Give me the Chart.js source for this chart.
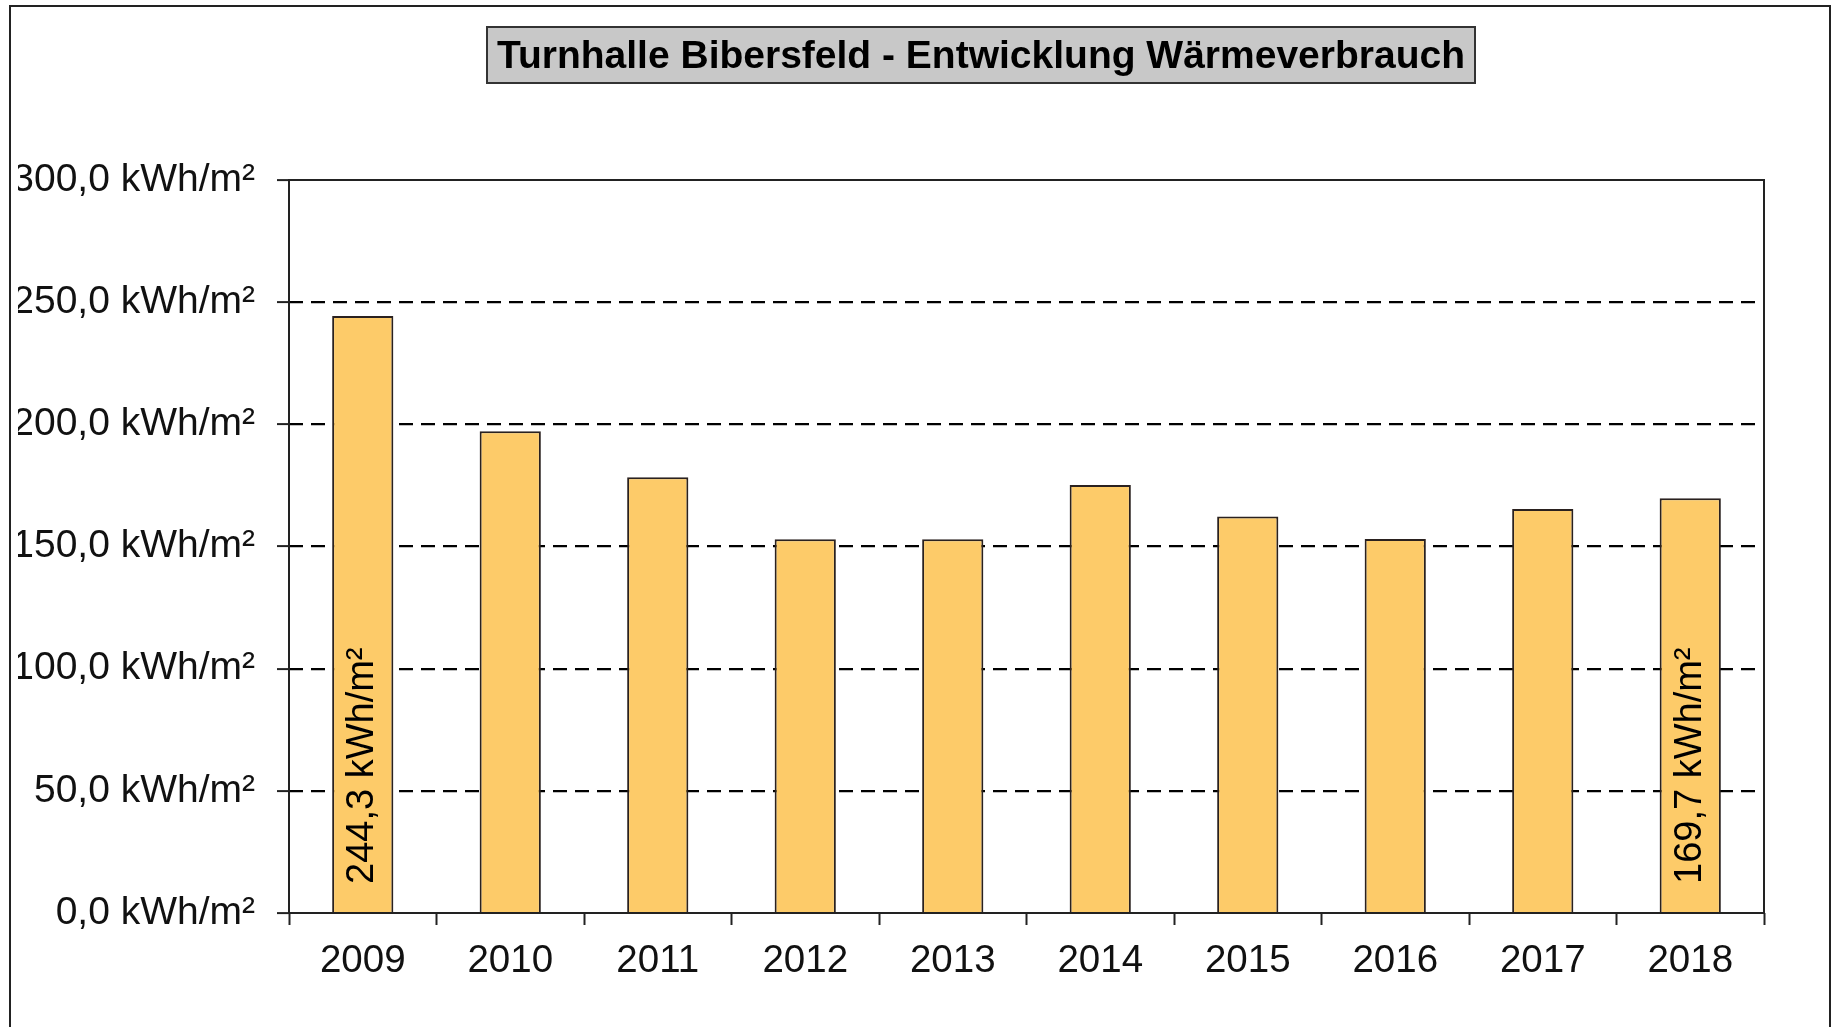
<!DOCTYPE html>
<html>
<head>
<meta charset="utf-8">
<script src="https://cdn.jsdelivr.net/npm/chart.js@4/dist/chart.umd.min.js"></script>
<style>
  html, body { margin: 0; padding: 0; background: #fff; }
  #wrap { width: 1832px; height: 1027px; position: relative; }
</style>
</head>
<body>
<div id="wrap"><canvas id="chart"></canvas></div>
<script>
const titleText = "Turnhalle Bibersfeld - Entwicklung Wärmeverbrauch";
const years = ["2009", "2010", "2011", "2012", "2013", "2014", "2015", "2016", "2017", "2018"];
const consumption = [244.3, 197.2, 178.3, 153.0, 153.0, 175.2, 162.3, 153.1, 165.3, 169.7];
const labeledYears = ["2009", "2018"];
const yTicks = [0, 50, 100, 150, 200, 250, 300];

const FONT = "'Liberation Sans', Arial, sans-serif";

function kwh(v) {
  return v.toFixed(1).replace(".", ",") + " kWh/m²";
}

// outer frame + grey title box
const framePlugin = {
  id: "frame",
  beforeDraw(chart) {
    const ctx = chart.ctx;
    ctx.save();
    ctx.strokeStyle = "#222";
    ctx.lineWidth = 2;
    ctx.beginPath();
    ctx.moveTo(10, 1027);
    ctx.lineTo(10, 6);
    ctx.lineTo(1830, 6);
    ctx.lineTo(1830, 1027);
    ctx.stroke();

    ctx.fillStyle = "#c8c8c8";
    ctx.fillRect(487, 27, 988, 56);
    ctx.strokeStyle = "#333";
    ctx.strokeRect(487, 27, 988, 56);
    ctx.fillStyle = "#000";
    ctx.font = "bold 39px " + FONT;
    ctx.textAlign = "center";
    ctx.textBaseline = "middle";
    ctx.fillText(titleText, 981, 57);
    ctx.restore();
  },
  afterDraw(chart) {
    const ctx = chart.ctx;
    const a = chart.chartArea;
    ctx.save();
    ctx.strokeStyle = "#222";
    ctx.lineWidth = 2;
    ctx.strokeRect(a.left, a.top, a.right - a.left, a.bottom - a.top);

    // rotated value labels on first and last bar
    const meta = chart.getDatasetMeta(0);
    const y0 = chart.scales.y.getPixelForValue(0);
    ctx.fillStyle = "#000";
    ctx.font = "38px " + FONT;
    ctx.textAlign = "left";
    ctx.textBaseline = "middle";
    years.forEach((yr, i) => {
      if (!labeledYears.includes(yr)) return;
      const bar = meta.data[i];
      ctx.save();
      ctx.translate(bar.x, y0 - 29);
      ctx.rotate(-Math.PI / 2);
      ctx.fillText(kwh(consumption[i]), 0, 0);
      ctx.restore();
    });
    ctx.restore();
  }
};

new Chart(document.getElementById("chart"), {
  type: "bar",
  data: {
    labels: years,
    datasets: [{
      data: consumption,
      backgroundColor: "#fdcb69",
      borderColor: "#2a211f",
      borderWidth: 2,
      barPercentage: 0.415,
      categoryPercentage: 1.0
    }]
  },
  options: {
    responsive: true,
    maintainAspectRatio: false,
    animation: false,
    layout: { padding: { left: 18, right: 68, top: 180, bottom: 0 } },
    plugins: {
      legend: { display: false },
      title: { display: false },
      tooltip: { enabled: false }
    },
    scales: {
      x: {
        afterFit(s) { s.height = 114; },
        border: { display: false },
        grid: {
          offset: true,
          drawOnChartArea: false,
          drawTicks: true,
          tickLength: 12,
          tickColor: "#222",
          tickWidth: 2
        },
        ticks: {
          color: "#111",
          padding: 13,
          font: { family: FONT, size: 38.5 },
          maxRotation: 0
        }
      },
      y: {
        min: 0,
        max: 300,
        afterFit(s) { s.width = 271; },
        afterBuildTicks(s) { s.ticks = yTicks.map(v => ({ value: v })); },
        border: { display: false, dash: [14, 8] },
        grid: {
          color: c => (c.tick && (c.tick.value === 0 || c.tick.value === 300)) ? "rgba(0,0,0,0)" : "#000",
          lineWidth: 2.2,
          drawTicks: true,
          tickLength: 12,
          tickColor: "#222",
          tickWidth: 2,
          tickBorderDash: []
        },
        ticks: {
          color: "#111",
          padding: 22,
          font: { family: FONT, size: 39 },
          callback: v => kwh(v)
        }
      }
    }
  },
  plugins: [framePlugin]
});
</script>
</body>
</html>
